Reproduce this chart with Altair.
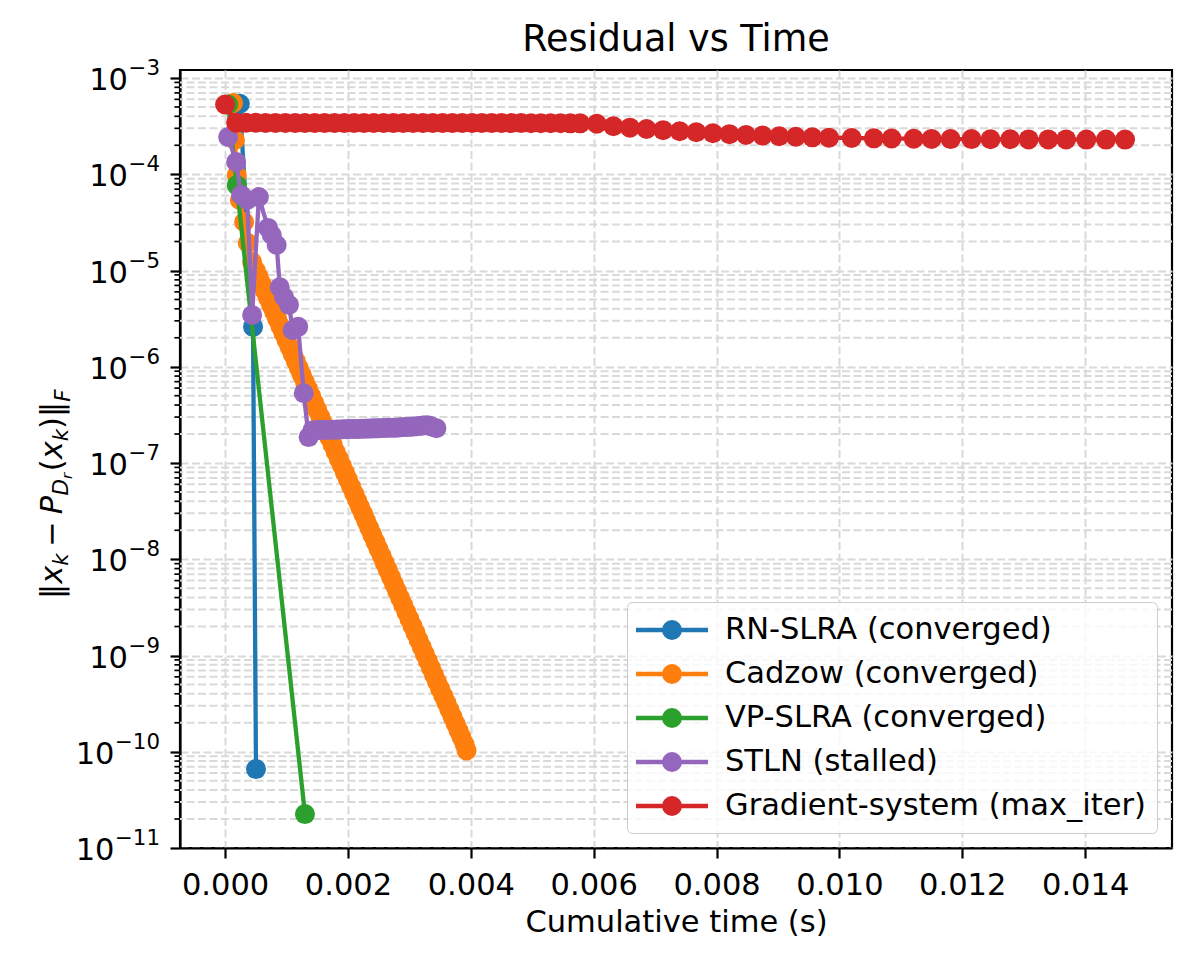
import altair as alt
import pandas as pd

# ---------------------------------------------------------------- data
series_names = [
    "RN-SLRA (converged)",
    "Cadzow (converged)",
    "VP-SLRA (converged)",
    "STLN (stalled)",
    "Gradient-system (max_iter)",
]
series_colors = ["#1f77b4", "#ff7f0e", "#2ca02c", "#9467bd", "#d62728"]

rn_time = [0.00024, 0.000455, 0.000503]
rn_res = [5.4e-4, 2.6e-6, 6.6e-11]

cadzow_time = [
    0.00013, 0.00016, 0.00019, 0.00024, 0.00031, 0.00037, 0.00044,
    0.00050, 0.00055, 0.00060, 0.00065, 0.00070, 0.00075, 0.00080, 0.00085,
    0.00090, 0.00095, 0.00100, 0.00105, 0.00110, 0.00115, 0.00120, 0.00125,
    0.00130, 0.00135, 0.00140, 0.00145, 0.00150, 0.00155, 0.00160, 0.00165,
    0.00170, 0.00175, 0.00180, 0.00185, 0.00190, 0.00195, 0.00200, 0.00205,
    0.00210, 0.00215, 0.00220, 0.00225, 0.00230, 0.00235, 0.00240, 0.00245,
    0.00250, 0.00255, 0.00260, 0.00265, 0.00270, 0.00275, 0.00280, 0.00285,
    0.00290, 0.00295, 0.00300, 0.00305, 0.00310, 0.00315, 0.00320, 0.00325,
    0.00330, 0.00335, 0.00340, 0.00345, 0.00350, 0.00355, 0.00360, 0.00365,
    0.00370, 0.00375, 0.00380, 0.00385, 0.00390, 0.00393,
]
cadzow_res = [
    5.50e-4, 2.27e-4, 9.8e-5, 5.4e-5, 3.19e-5, 1.93e-5, 1.225e-5,
    1.00e-5, 8.48e-6, 7.18e-6, 6.08e-6, 5.15e-6, 4.35e-6, 3.68e-6, 3.12e-6,
    2.64e-6, 2.23e-6, 1.89e-6, 1.60e-6, 1.36e-6, 1.15e-6, 9.70e-7, 8.21e-7,
    6.95e-7, 5.89e-7, 4.98e-7, 4.22e-7, 3.57e-7, 3.02e-7, 2.56e-7, 2.16e-7,
    1.83e-7, 1.55e-7, 1.31e-7, 1.11e-7, 9.40e-8, 7.95e-8, 6.73e-8, 5.70e-8,
    4.82e-8, 4.08e-8, 3.46e-8, 2.93e-8, 2.48e-8, 2.10e-8, 1.77e-8, 1.50e-8,
    1.27e-8, 1.08e-8, 9.10e-9, 7.70e-9, 6.52e-9, 5.52e-9, 4.67e-9, 3.95e-9,
    3.35e-9, 2.83e-9, 2.40e-9, 2.03e-9, 1.72e-9, 1.45e-9, 1.23e-9, 1.04e-9,
    8.81e-10, 7.46e-10, 6.31e-10, 5.34e-10, 4.52e-10, 3.83e-10, 3.24e-10,
    2.74e-10, 2.32e-10, 1.96e-10, 1.66e-10, 1.41e-10, 1.19e-10, 1.03e-10,
]

vp_time = [0.00005, 0.00019, 0.00130]
vp_res = [5.3e-4, 7.7e-5, 2.25e-11]

stln_time = [
    0.00005, 0.00018, 0.00026, 0.00036, 0.00044, 0.00055, 0.00070, 0.00076,
    0.00084, 0.00089, 0.00096, 0.00104, 0.00110, 0.00119, 0.00128, 0.00136,
    0.00142, 0.00147, 0.00152, 0.00157, 0.00162, 0.00167, 0.00172, 0.00177,
    0.00182, 0.00187, 0.00192, 0.00197, 0.00202, 0.00207, 0.00212, 0.00217,
    0.00222, 0.00227, 0.00232, 0.00237, 0.00242, 0.00247, 0.00252, 0.00257,
    0.00262, 0.00267, 0.00272, 0.00277, 0.00282, 0.00287, 0.00292, 0.00297,
    0.00302, 0.00307, 0.00312, 0.00317, 0.00322, 0.00327, 0.00332, 0.00337,
    0.00344,
]
stln_res = [
    2.44e-4, 1.34e-4, 6.1e-5, 5.4e-5, 3.45e-6, 5.8e-5, 2.77e-5, 2.34e-5,
    1.84e-5, 6.7e-6, 5.3e-6, 4.4e-6, 2.4e-6, 2.6e-6, 5.3e-7, 1.86e-7,
    2.18e-7, 2.19e-7, 2.20e-7, 2.20e-7, 2.21e-7, 2.21e-7, 2.22e-7, 2.22e-7,
    2.23e-7, 2.23e-7, 2.24e-7, 2.24e-7, 2.25e-7, 2.25e-7, 2.26e-7, 2.26e-7,
    2.27e-7, 2.27e-7, 2.28e-7, 2.28e-7, 2.29e-7, 2.29e-7, 2.30e-7, 2.31e-7,
    2.31e-7, 2.32e-7, 2.33e-7, 2.33e-7, 2.34e-7, 2.35e-7, 2.36e-7, 2.37e-7,
    2.38e-7, 2.39e-7, 2.41e-7, 2.43e-7, 2.45e-7, 2.47e-7, 2.45e-7, 2.38e-7,
    2.30e-7,
]

grad_time = [
    0.0, 0.00018, 0.00034, 0.00050, 0.00066, 0.00082, 0.00098, 0.00114,
    0.00130, 0.00146, 0.00162, 0.00178, 0.00194, 0.00210, 0.00226, 0.00242,
    0.00258, 0.00274, 0.00290, 0.00306, 0.00322, 0.00338, 0.00354, 0.00370,
    0.00386, 0.00402, 0.00418, 0.00434, 0.00450, 0.00466, 0.00482, 0.00498,
    0.00514, 0.00530, 0.00546, 0.00562, 0.00578,
    0.00605, 0.00632, 0.00659, 0.00686, 0.00713, 0.00740, 0.00767, 0.00794,
    0.00821, 0.00848, 0.00875, 0.00902, 0.00929, 0.00956, 0.00983,
    0.01020, 0.01056, 0.01085, 0.01121, 0.01150, 0.01181, 0.01215, 0.01246,
    0.01278, 0.01308, 0.01340, 0.01369, 0.01402, 0.01434, 0.01465,
]
grad_res = [
    5.30e-4, 3.43e-4, 3.42e-4, 3.42e-4, 3.41e-4, 3.41e-4, 3.41e-4, 3.40e-4,
    3.40e-4, 3.40e-4, 3.40e-4, 3.40e-4, 3.40e-4, 3.40e-4, 3.40e-4, 3.40e-4,
    3.40e-4, 3.40e-4, 3.40e-4, 3.40e-4, 3.40e-4, 3.40e-4, 3.40e-4, 3.40e-4,
    3.40e-4, 3.40e-4, 3.40e-4, 3.40e-4, 3.40e-4, 3.40e-4, 3.40e-4, 3.39e-4,
    3.39e-4, 3.39e-4, 3.39e-4, 3.38e-4, 3.38e-4,
    3.35e-4, 3.15e-4, 3.05e-4, 2.95e-4, 2.87e-4, 2.80e-4, 2.73e-4, 2.67e-4,
    2.61e-4, 2.56e-4, 2.52e-4, 2.48e-4, 2.45e-4, 2.42e-4, 2.40e-4,
    2.38e-4, 2.36e-4, 2.35e-4, 2.34e-4, 2.33e-4, 2.32e-4, 2.32e-4, 2.31e-4,
    2.31e-4, 2.30e-4, 2.30e-4, 2.30e-4, 2.29e-4, 2.29e-4, 2.29e-4,
]

x_ticks = [0.0, 0.002, 0.004, 0.006, 0.008, 0.010, 0.012, 0.014]
y_exponents = [-11, -10, -9, -8, -7, -6, -5, -4, -3]

# ---------------------------------------------------------------- table
rows = []
for name, ts, rs in zip(
    series_names,
    [rn_time, cadzow_time, vp_time, stln_time, grad_time],
    [rn_res, cadzow_res, vp_res, stln_res, grad_res],
):
    for i, (t, r) in enumerate(zip(ts, rs)):
        rows.append({"series": name, "t": t, "r": r, "i": i})
df = pd.DataFrame(rows)

# ---------------------------------------------------------------- style
FONT = "DejaVu Sans"
F = 30.5            # base font size (10 pt)
SUP = 0.7 * F       # super/subscript size
W, H = 992, 778
GRID = "#d9d9d9"
DASH = [8, 3.5]

x_scale = alt.Scale(domain=[-0.000734, 0.015414], nice=False, zero=False)
y_scale = alt.Scale(type="log", domain=[1e-11, 1.211e-3], nice=False)
color_scale = alt.Scale(domain=series_names, range=series_colors)

x_axis = alt.Axis(
    values=x_ticks, format=".3f", title="Cumulative time (s)",
    grid=True, labelPadding=12, titlePadding=7, labelFlush=False,
)
y_ticks = [10.0 ** e for e in y_exponents]
y_axis = alt.Axis(values=y_ticks, labels=False, title=None, grid=True)

X = alt.X("t:Q", scale=x_scale, axis=x_axis)
Y = alt.Y("r:Q", scale=y_scale, axis=y_axis)

# legend symbol: a 72 px line with a filled marker in its middle
# (symbol units are 15 px for a symbolSize of 900)
hl = 2.4
rc = 0.523
kc = round(0.5523 * rc, 4)
legend_symbol = (
    f"M-{hl},0L{hl},0M{rc},0C{rc},{kc},{kc},{rc},0,{rc}C-{kc},{rc},-{rc},{kc},-{rc},0"
    f"C-{rc},-{kc},-{kc},-{rc},0,-{rc}C{kc},-{rc},{rc},-{kc},{rc},0Z"
)
legend = alt.Legend(
    title=None, orient="bottom-right", offset=15, padding=10.5,
    rowPadding=10, labelFontSize=F, labelFont=FONT, labelColor="black",
    labelLimit=1000, labelOffset=35.5, symbolOffset=17, symbolType=legend_symbol,
    symbolSize=900, symbolStrokeWidth=4.3, symbolOpacity=1,
    strokeColor="#cccccc", fillColor="rgba(255,255,255,0.8)", cornerRadius=5,
)

# ---------------------------------------------------------------- layers
minor_vals = [m * 10.0 ** e for e in range(-11, -2) for m in range(2, 10)]
minor_vals = [v for v in minor_vals if v < 1.2e-3]
minor_df = pd.DataFrame({"r": minor_vals})

minor_grid = alt.Chart(minor_df).mark_rule(
    color=GRID, strokeWidth=2, strokeDash=DASH
).encode(y=Y)
minor_ticks = alt.Chart(minor_df).mark_rule(
    color="black", strokeWidth=1.7
).encode(y=Y, x=alt.value(-5.6), x2=alt.value(0))

layers = [minor_grid, minor_ticks]
for name in series_names:
    base = alt.Chart(df).transform_filter(alt.datum.series == name)
    line = base.mark_line(strokeWidth=4.3).encode(
        x=X, y=Y,
        color=alt.Color("series:N", scale=color_scale, legend=legend),
        order="i:Q",
    )
    pts = base.mark_circle(size=400, opacity=1).encode(
        x=X, y=Y,
        fill=alt.Fill("series:N", scale=color_scale, legend=legend),
    )
    layers += [line, pts]

# y tick labels written as 10 with a raised exponent
def exp_text(e):
    return "\u2212" + str(-e)

for group in ([e for e in y_exponents if e <= -10], [e for e in y_exponents if e > -10]):
    gdf = pd.DataFrame({"r": [10.0 ** e for e in group], "sup": [exp_text(e) for e in group]})
    n = len(str(-group[0]))
    w_exp = (0.838 + 0.636 * n) * SUP
    x_right = -20
    layers.append(
        alt.Chart(gdf).mark_text(
            text="10", align="right", baseline="middle", font=FONT,
            fontSize=F, color="black", dy=3,
        ).encode(y=Y, x=alt.value(x_right - w_exp - 0.5))
    )
    layers.append(
        alt.Chart(gdf).mark_text(
            align="left", baseline="middle", font=FONT, fontSize=SUP,
            color="black", dy=-9,
        ).encode(y=Y, x=alt.value(x_right - w_exp), text="sup:N")
    )

# y axis title: ||x_k - P_{D_r}(x_k)||_F set piece by piece, rotated
SUBSUB = 0.7 * SUP
title_pieces = [
    # text, size, italic, advance (em), shift toward subscript side, space before
    ("\u2016", F, False, 0.50, 0, 0),
    ("x", F, True, 0.59, 0, 0),
    ("k", SUP, True, 0.58, 6, 0),
    ("\u2212", F, False, 0.84, 0, 0.22 * F),
    ("P", F, True, 0.62, 0, 0.22 * F),
    ("D", SUP, True, 0.77, 6, 0),
    ("r", SUBSUB, True, 0.45, 10, 0),
    ("(", F, False, 0.39, 0, 1),
    ("x", F, True, 0.59, 0, 0),
    ("k", SUP, True, 0.58, 6, 0),
    (")", F, False, 0.39, 0, 0),
    ("\u2016", F, False, 0.50, 0, 0),
    ("F", SUP, True, 0.58, 8, 0),
]
title_x, title_y = -118, 529
pos = 0.0
one_row = alt.Data(values=[{"k": 0}])
for txt, size, italic, adv, shift, space in title_pieces:
    pos += space
    layers.append(
        alt.Chart(one_row).mark_text(
            text=txt, angle=270, align="left", baseline="alphabetic",
            font=FONT, fontSize=size, fontStyle="italic" if italic else "normal",
            color="black",
        ).encode(x=alt.value(title_x + shift), y=alt.value(title_y - pos))
    )
    pos += adv * size

chart = alt.layer(*layers).properties(
    width=W, height=H,
    title=alt.TitleParams(
        "Residual vs Time", font=FONT, fontSize=36.5, fontWeight="normal",
        color="black", offset=0, anchor="middle", frame="group",
    ),
    padding={"left": 180, "top": 70, "right": 22, "bottom": 114},
    autosize=alt.AutoSizeParams(type="none"),
    background="white",
).configure_view(
    stroke="black", strokeWidth=2.2,
).configure_axis(
    domainColor="black", domainWidth=2.2, tickColor="black", tickWidth=2.2,
    tickSize=10, labelFont=FONT, labelFontSize=F, labelColor="black",
    titleFont=FONT, titleFontSize=F, titleFontWeight="normal", titleColor="black",
    gridColor=GRID, gridDash=DASH, gridWidth=2,
)

chart.save("out.html", embed_options={"renderer": "svg", "actions": False})
